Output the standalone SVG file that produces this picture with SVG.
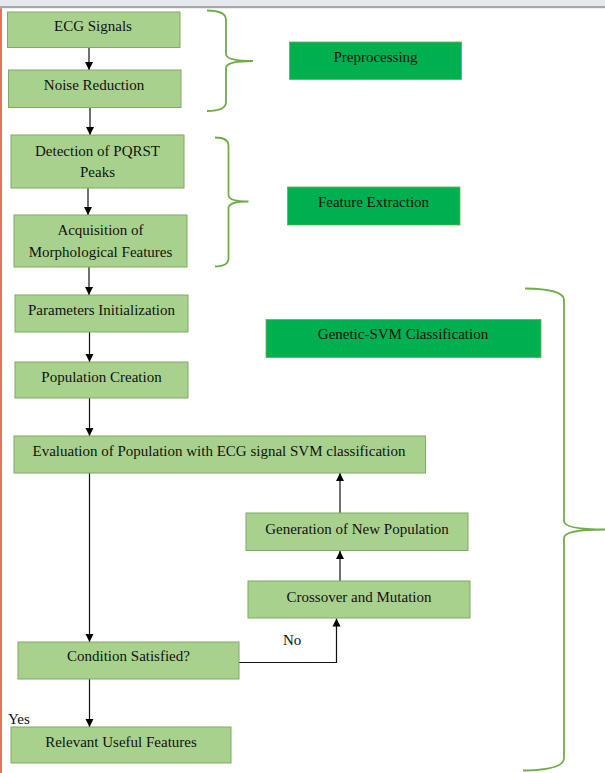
<svg xmlns="http://www.w3.org/2000/svg" width="605" height="773" viewBox="0 0 605 773">
  <defs>
    <marker id="arrow" viewBox="0 0 10 10" refX="10" refY="5" markerWidth="8" markerHeight="9" markerUnits="userSpaceOnUse" orient="auto">
      <path d="M0,0 L10,5 L0,10 z" fill="#000"/>
    </marker>
    <style>
      .step { fill: #a9d18e; stroke: #7faa62; stroke-width: 1; }
      .stage { fill: #00b050; stroke: #6fae4a; stroke-width: 0.8; }
      .txt { font-family: "Liberation Serif", "Times New Roman", serif; font-size: 15px; fill: #111; text-anchor: middle; }
      .lbl { font-family: "Liberation Serif", "Times New Roman", serif; font-size: 15px; fill: #111; }
      .flow { stroke: #111; stroke-width: 1.2; fill: none; }
      .brace { stroke: #70ad47; stroke-width: 1.8; fill: none; }
    </style>
  </defs>

  <!-- page background -->
  <rect x="0" y="0" width="605" height="773" fill="#ffffff"/>
  <rect x="0" y="0" width="605" height="6" fill="#e4e9f0"/>
  <rect x="0" y="6" width="605" height="2.2" fill="#a3a6ab"/>
  <rect x="0" y="8.2" width="2" height="764.8" fill="#e8705f"/>

  <!-- connectors -->
  <g id="connectors">
    <line class="flow" x1="89" y1="48" x2="89" y2="70" marker-end="url(#arrow)"/>
    <line class="flow" x1="90" y1="108" x2="90" y2="135" marker-end="url(#arrow)"/>
    <line class="flow" x1="88" y1="188" x2="88" y2="215" marker-end="url(#arrow)"/>
    <line class="flow" x1="89" y1="267" x2="89" y2="295" marker-end="url(#arrow)"/>
    <line class="flow" x1="89.5" y1="332" x2="89.5" y2="362" marker-end="url(#arrow)"/>
    <line class="flow" x1="89.5" y1="398" x2="89.5" y2="436" marker-end="url(#arrow)"/>
    <line class="flow" x1="89.5" y1="473" x2="89.5" y2="642" marker-end="url(#arrow)"/>
    <line class="flow" x1="89.5" y1="679" x2="89.5" y2="727" marker-end="url(#arrow)"/>
    <polyline class="flow" points="239,662.5 336.5,662.5 336.5,618.5" marker-end="url(#arrow)"/>
    <line class="flow" x1="340" y1="581" x2="340" y2="551" marker-end="url(#arrow)"/>
    <line class="flow" x1="340" y1="513" x2="340" y2="473" marker-end="url(#arrow)"/>
  </g>

  <!-- grouping braces -->
  <g id="braces">
    <path class="brace" d="M207,10.5 Q226,10.5 226,20 L226,54 Q226,61 253,61 Q226,61 226,68 L226,102 Q226,111 207,111"/>
    <path class="brace" d="M215,137.5 Q228.5,137.5 228.5,146 L228.5,195 Q228.5,201.5 248.5,201.5 Q228.5,201.5 228.5,208 L228.5,258 Q228.5,266.5 215,266.5"/>
    <path class="brace" d="M525,288.5 Q564,289 564,300 L564,521 Q564,529.5 605,529.5 Q564,529.5 564,538 L564,758 Q564,770 523,770.5"/>
  </g>

  <!-- stage labels -->
  <g id="stage-preprocessing">
    <rect class="stage" x="289.5" y="42" width="172" height="37.5"/>
    <text class="txt" x="375.5" y="62">Preprocessing</text>
  </g>
  <g id="stage-feature-extraction">
    <rect class="stage" x="287.5" y="187" width="172.5" height="38"/>
    <text class="txt" x="373.5" y="207">Feature Extraction</text>
  </g>
  <g id="stage-genetic-svm">
    <rect class="stage" x="266" y="319.5" width="275" height="38"/>
    <text class="txt" x="403" y="338.5">Genetic-SVM Classification</text>
  </g>

  <!-- process steps -->
  <g id="ecg-signals">
    <rect class="step" x="7.5" y="12" width="172.5" height="35.5"/>
    <text class="txt" x="93" y="31">ECG Signals</text>
  </g>
  <g id="noise-reduction">
    <rect class="step" x="8.5" y="70" width="172.5" height="37.5"/>
    <text class="txt" x="94" y="90">Noise Reduction</text>
  </g>
  <g id="pqrst-detection">
    <rect class="step" x="11" y="135" width="173" height="53"/>
    <text class="txt" x="97.5" y="155.5">Detection of PQRST</text>
    <text class="txt" x="97.5" y="176.5">Peaks</text>
  </g>
  <g id="morphological-features">
    <rect class="step" x="14" y="215" width="173" height="52"/>
    <text class="txt" x="100.5" y="235">Acquisition of</text>
    <text class="txt" x="100.5" y="256.5">Morphological Features</text>
  </g>
  <g id="parameters-init">
    <rect class="step" x="15" y="295" width="173" height="37"/>
    <text class="txt" x="101.5" y="315">Parameters Initialization</text>
  </g>
  <g id="population-creation">
    <rect class="step" x="15" y="362" width="173" height="36"/>
    <text class="txt" x="101.5" y="381.5">Population Creation</text>
  </g>
  <g id="population-evaluation">
    <rect class="step" x="14" y="436" width="411.5" height="37"/>
    <text class="txt" x="219" y="456">Evaluation of Population with ECG signal SVM classification</text>
  </g>
  <g id="new-population">
    <rect class="step" x="246" y="513" width="222" height="37.5"/>
    <text class="txt" x="357" y="533.5">Generation of New Population</text>
  </g>
  <g id="crossover-mutation">
    <rect class="step" x="248" y="581" width="222" height="37"/>
    <text class="txt" x="359" y="601.5">Crossover and Mutation</text>
  </g>
  <g id="condition-check">
    <rect class="step" x="18" y="642" width="221" height="37"/>
    <text class="txt" x="128.5" y="661">Condition Satisfied?</text>
  </g>
  <g id="relevant-features">
    <rect class="step" x="11" y="727" width="220" height="36"/>
    <text class="txt" x="121" y="747">Relevant Useful Features</text>
  </g>

  <!-- branch labels -->
  <g id="branch-labels">
    <text class="lbl" x="283" y="645">No</text>
    <text class="lbl" x="8" y="723.5">Yes</text>
  </g>
</svg>
